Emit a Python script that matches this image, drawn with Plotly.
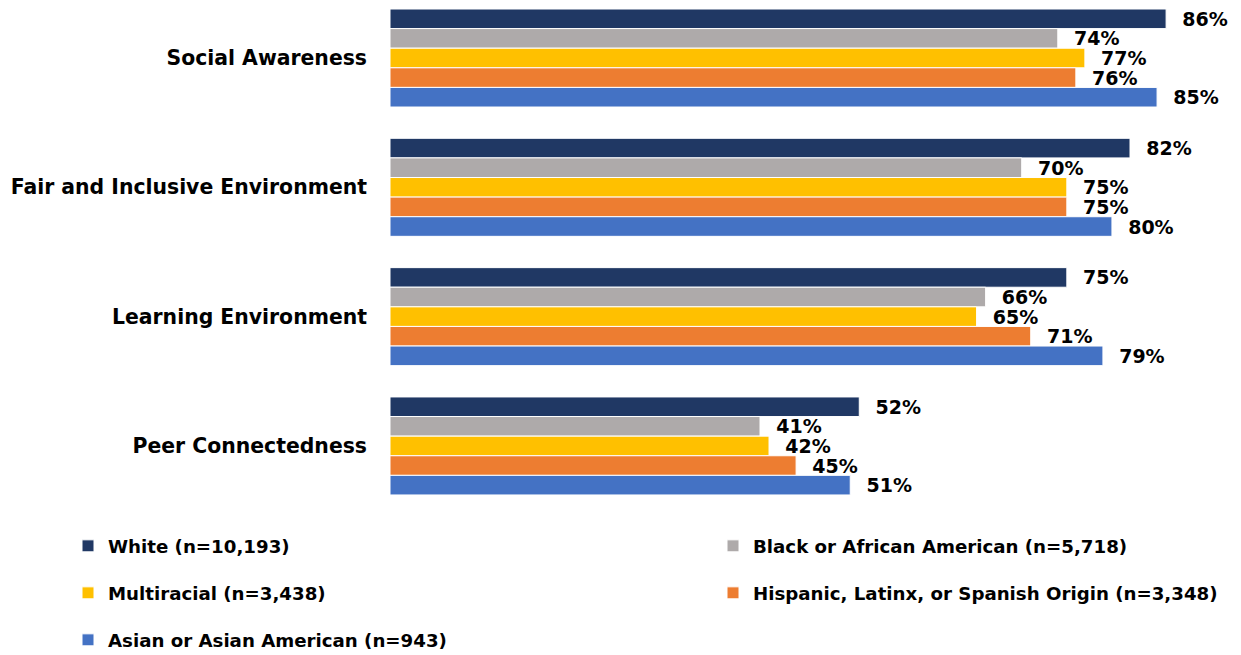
import plotly.graph_objects as go

categories = ["Social Awareness", "Fair and Inclusive Environment", "Learning Environment", "Peer Connectedness"]
series_names = ["White (n=10,193)", "Black or African American (n=5,718)", "Multiracial (n=3,438)",
                "Hispanic, Latinx, or Spanish Origin (n=3,348)", "Asian or Asian American (n=943)"]
white = [86, 82, 75, 52]
black = [74, 70, 66, 41]
multiracial = [77, 75, 65, 42]
hispanic = [76, 75, 71, 45]
asian = [85, 80, 79, 51]
colors = ["#203864", "#AEAAAA", "#FFC000", "#ED7D31", "#4472C4"]

values = [white, black, multiracial, hispanic, asian]
FONT = "DejaVu Sans"
legend_ids = ["legend", "legend2", "legend3", "legend4", "legend5"]

fig = go.Figure()
for i, (name, vals) in enumerate(zip(series_names, values)):
    fig.add_trace(go.Bar(
        y=categories, x=vals, name=name, orientation="h",
        marker=dict(color=colors[i], line=dict(color="white", width=1)),
        text=[f"\u00a0\u00a0{v}%" for v in vals],
        textposition="outside", cliponaxis=False, constraintext="none",
        textfont=dict(family=FONT, size=19, color="black", weight="bold"),
        legend=legend_ids[i], hoverinfo="skip",
    ))

W, H = 1241, 655
# legend positions (px from left, px from top)
leg_pos = [(68, 546), (713, 546), (68, 593), (713, 593), (68, 640)]
layout_legends = {}
for lid, (px, py) in zip(legend_ids, leg_pos):
    layout_legends[lid] = dict(
        xref="container", yref="container", x=px / W, y=1 - py / H,
        xanchor="left", yanchor="middle", bgcolor="rgba(0,0,0,0)",
        font=dict(family=FONT, size=18.2, color="black", weight="bold"),
        itemclick=False, itemdoubleclick=False,
    )

fig.update_layout(
    width=W, height=H,
    margin=dict(l=390, r=0, t=0, b=140, autoexpand=False),
    barmode="group", bargap=0.242, bargroupgap=0,
    plot_bgcolor="white", paper_bgcolor="white",
    xaxis=dict(range=[0, 94.3], visible=False, fixedrange=True),
    yaxis=dict(range=[3.534, -0.4486], showgrid=False, zeroline=False, showline=False,
               ticks="", ticklabelstandoff=22, fixedrange=True, automargin=False,
               tickfont=dict(family=FONT, size=20.4, color="black", weight="bold")),
    showlegend=True,
    **layout_legends,
)
fig.write_html("out.html")
